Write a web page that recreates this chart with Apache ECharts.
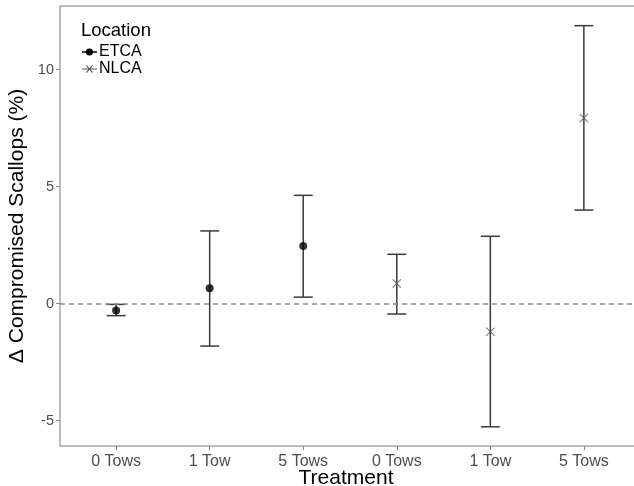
<!DOCTYPE html>
<html>
<head>
<meta charset="utf-8">
<script src="https://cdn.jsdelivr.net/npm/echarts@6/dist/echarts.min.js"></script>
<style>html,body{margin:0;padding:0;background:#fff}#c{width:634px;height:486px}</style>
</head>
<body>
<div id="c"></div>
<script>
// Tick labels / categories (x positions 0..5)
const tickLabels = ['0 Tows', '1 Tow', '5 Tows', '0 Tows', '1 Tow', '5 Tows'];
const yTicks = [-5, 0, 5, 10];

// ETCA: x index, mean, low, high
const etcaX = [0, 1, 2];
const etcaMean = [-0.29, 0.66, 2.47];
const etcaLow = [-0.51, -1.81, 0.28];
const etcaHigh = [-0.03, 3.11, 4.63];

// NLCA
const nlcaX = [3, 4, 5];
const nlcaMean = [0.86, -1.20, 7.93];
const nlcaLow = [-0.44, -5.26, 4.00];
const nlcaHigh = [2.11, 2.88, 11.88];

const FONT = '"Liberation Sans", Arial, sans-serif';
const crossPath = 'path://M0.6,1.4 L1.4,0.6 L10,9.2 L9.2,10 Z M9.2,0.6 L10,1.4 L1.4,10 L0.6,9.2 Z';
const etcaIcon = 'path://M0,4.35 H15 V5.65 H0 Z M7.5,1.5 A3.5,3.5 0 1 1 7.499,1.5 Z';
const nlcaIcon = 'path://M0,4.4 H15 V5.6 H0 Z M4,1.8 L4.8,1 L11,8.2 L10.2,9 Z M10.2,1 L11,1.8 L4.8,9 L4,8.2 Z';

function errData(xs, lo, hi) { return xs.map((x, i) => [x, lo[i], hi[i]]); }
function errRender(params, api) {
  const x = api.value(0);
  const lo = api.coord([x, api.value(1)]);
  const hi = api.coord([x, api.value(2)]);
  const w = 9.5;
  const style = { stroke: '#3a3a3a', lineWidth: 1.5, fill: null };
  return {
    type: 'group',
    children: [
      { type: 'line', shape: { x1: lo[0], y1: lo[1], x2: hi[0], y2: hi[1] }, style },
      { type: 'line', shape: { x1: lo[0] - w, y1: lo[1], x2: lo[0] + w, y2: lo[1] }, style },
      { type: 'line', shape: { x1: hi[0] - w, y1: hi[1], x2: hi[0] + w, y2: hi[1] }, style }
    ]
  };
}

const chart = echarts.init(document.getElementById('c'), null, { renderer: 'canvas' });
chart.setOption({
  animation: false,
  textStyle: { fontFamily: FONT },
  grid: { left: 60, top: 6, width: 580, height: 440, show: true, borderColor: '#a6a6a6', borderWidth: 1.5, containLabel: false, outerBoundsMode: 'none' },
  xAxis: {
    type: 'value', min: -0.6, max: 5.6,
    splitLine: { show: false },
    axisLine: { show: false, onZero: false },
    axisTick: { show: true, customValues: [0, 1, 2, 3, 4, 5], length: 4, lineStyle: { color: '#888', width: 1 } },
    axisLabel: { customValues: [0, 1, 2, 3, 4, 5], formatter: v => tickLabels[Math.round(v)], fontSize: 16, color: '#4d4d4d', margin: 8, fontFamily: FONT },
    name: 'Treatment', nameLocation: 'middle', nameGap: 22, nameMoveOverlap: false,
    nameTextStyle: { fontSize: 21, color: '#000', fontFamily: FONT, padding: [0, 8, 0, 0] }
  },
  yAxis: {
    type: 'value', min: -6.08, max: 12.72,
    splitLine: { show: false },
    axisLine: { show: false, onZero: false },
    axisTick: { show: true, customValues: yTicks, length: 4, lineStyle: { color: '#888', width: 1 } },
    axisLabel: { customValues: yTicks, fontSize: 14.5, color: '#4d4d4d', margin: 6, fontFamily: FONT },
    name: 'Δ Compromised Scallops (%)', nameLocation: 'middle', nameGap: 32, nameMoveOverlap: false,
    nameTextStyle: { fontSize: 21, color: '#000', fontFamily: FONT }
  },
  legend: {
    orient: 'vertical', left: 82, top: 44, padding: 0, itemGap: 1, itemWidth: 15, itemHeight: 10,
    textStyle: { fontSize: 16, color: '#000', fontFamily: FONT, padding: [0, 0, 0, -3] },
    data: [
      { name: 'ETCA', icon: etcaIcon, itemStyle: { color: '#000' } },
      { name: 'NLCA', icon: nlcaIcon, itemStyle: { color: '#555' } }
    ]
  },
  graphic: [
    { type: 'text', left: 81, top: 21, style: { text: 'Location', fontSize: 18.5, fill: '#000', fontFamily: FONT } }
  ],
  series: [
    {
      name: 'ETCA', type: 'custom', renderItem: errRender,
      data: errData(etcaX, etcaLow, etcaHigh), encode: { x: 0, y: [1, 2] }, z: 2,
      markLine: {
        silent: true, symbol: 'none', label: { show: false },
        lineStyle: { color: '#8a8a8a', type: [5, 4], width: 1.5 },
        data: [{ yAxis: 0 }]
      }
    },
    {
      name: 'NLCA', type: 'custom', renderItem: errRender,
      data: errData(nlcaX, nlcaLow, nlcaHigh), encode: { x: 0, y: [1, 2] }, z: 2
    },
    {
      name: 'ETCA', type: 'scatter', symbol: 'circle', symbolSize: 8,
      itemStyle: { color: '#000' }, z: 3,
      data: etcaX.map((x, i) => [x, etcaMean[i]])
    },
    {
      name: 'NLCA', type: 'scatter', symbol: crossPath, symbolSize: 9,
      itemStyle: { color: '#555' }, z: 3,
      data: nlcaX.map((x, i) => [x, nlcaMean[i]])
    }
  ]
});
</script>
</body>
</html>
